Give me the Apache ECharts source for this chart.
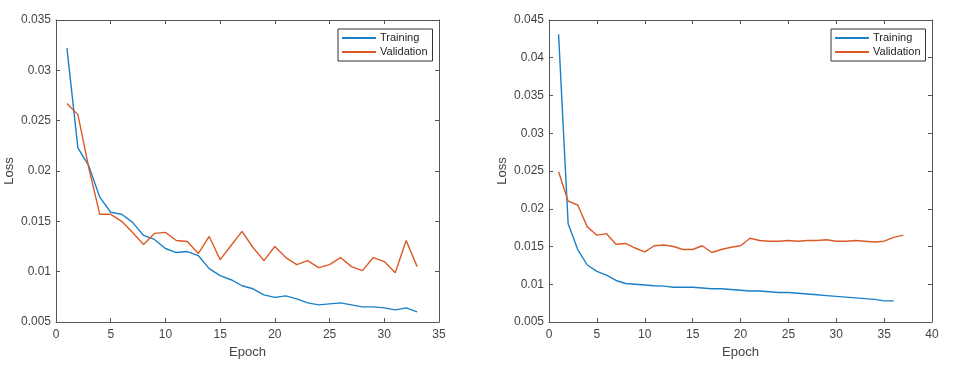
<!DOCTYPE html>
<html>
<head>
<meta charset="utf-8">
<script src="https://cdn.jsdelivr.net/npm/echarts@6/dist/echarts.min.js"></script>
<style>
  html, body { margin: 0; padding: 0; background: #fff; }
  #chart { width: 957px; height: 374px; }
</style>
</head>
<body>
<div id="chart"></div>
<script>
// left panel (33 epochs)
const trainA = [0.0322, 0.0223, 0.0205, 0.0174, 0.0159, 0.0157, 0.0149, 0.0136, 0.0132, 0.0123,
  0.0119, 0.0120, 0.0116, 0.0103, 0.0096, 0.0092, 0.0086, 0.0083, 0.0077, 0.00745,
  0.0076, 0.0073, 0.0069, 0.0067, 0.0068, 0.0069, 0.0067, 0.0065, 0.0065, 0.0064,
  0.0062, 0.0064, 0.0060];
const valA = [0.0267, 0.0256, 0.0203, 0.0157, 0.0157, 0.0150, 0.0139, 0.0127, 0.0138, 0.0139,
  0.0131, 0.0130, 0.0118, 0.0135, 0.0112, 0.0126, 0.0140, 0.0124, 0.0111, 0.0125,
  0.0114, 0.0107, 0.0111, 0.0104, 0.0107, 0.0114, 0.0105, 0.0101, 0.0114, 0.0110,
  0.0099, 0.0131, 0.0105];
// right panel (36 / 37 epochs)
const trainB = [0.0431, 0.0180, 0.0146, 0.01255, 0.0117, 0.0112, 0.0105, 0.0101, 0.0100, 0.0099,
  0.0098, 0.00975, 0.0096, 0.0096, 0.0096, 0.0095, 0.0094, 0.0094, 0.0093, 0.0092,
  0.0091, 0.0091, 0.0090, 0.0089, 0.0089, 0.0088, 0.0087, 0.0086, 0.0085, 0.0084,
  0.0083, 0.0082, 0.0081, 0.0080, 0.0078, 0.0078];
const valB = [0.0249, 0.0210, 0.0205, 0.0176, 0.0165, 0.0167, 0.0153, 0.0154, 0.0148, 0.0143,
  0.0151, 0.0152, 0.0150, 0.0146, 0.0146, 0.0151, 0.0142, 0.0146, 0.0149, 0.0151,
  0.0161, 0.0158, 0.0157, 0.0157, 0.0158, 0.0157, 0.0158, 0.0158, 0.0159, 0.0157,
  0.0157, 0.0158, 0.0157, 0.0156, 0.0157, 0.0162, 0.0165];

const xTicksA = { min: 0, max: 35, interval: 5 };
const xTicksB = { min: 0, max: 40, interval: 5 };
const yTicksA = { min: 0.005, max: 0.035, interval: 0.005 };
const yTicksB = { min: 0.005, max: 0.045, interval: 0.005 };

const seriesNames = ['Training', 'Validation'];
const colors = ['#1b80c8', '#dc5a28'];

const axisColor = '#555555';
const labelColor = '#444444';
const font = 'Liberation Sans, Arial, sans-serif';

function pairs(arr) {
  return arr.map(function (v, i) { return [i + 1, v]; });
}

function xAxes(grid, ticks) {
  const base = {
    gridIndex: grid, type: 'value', min: ticks.min, max: ticks.max, interval: ticks.interval,
    splitLine: { show: false },
    axisLine: { show: true, onZero: false, lineStyle: { color: axisColor, width: 1 } },
    axisTick: { show: true, inside: true, length: 4, lineStyle: { color: axisColor } }
  };
  return [
    Object.assign({}, base, {
      position: 'bottom',
      name: 'Epoch', nameLocation: 'middle', nameGap: 22,
      nameTextStyle: { color: labelColor, fontSize: 13, fontFamily: font },
      axisLabel: { color: labelColor, fontSize: 12, fontFamily: font, margin: 7 }
    }),
    Object.assign({}, base, { position: 'top', axisLabel: { show: false } })
  ];
}

function yAxes(grid, ticks) {
  const base = {
    gridIndex: grid, type: 'value', min: ticks.min, max: ticks.max, interval: ticks.interval,
    splitLine: { show: false },
    axisLine: { show: true, onZero: false, lineStyle: { color: axisColor, width: 1 } },
    axisTick: { show: true, inside: true, length: 4, lineStyle: { color: axisColor } }
  };
  return [
    Object.assign({}, base, {
      position: 'left',
      name: 'Loss', nameLocation: 'middle', nameGap: 40,
      nameTextStyle: { color: labelColor, fontSize: 13, fontFamily: font },
      axisLabel: {
        color: labelColor, fontSize: 12, fontFamily: font, margin: 5,
        formatter: function (v) { return String(+v.toFixed(3)); }
      }
    }),
    Object.assign({}, base, { position: 'right', axisLabel: { show: false } })
  ];
}

function line(name, data, color, xi, yi) {
  return {
    name: name, type: 'line', xAxisIndex: xi, yAxisIndex: yi,
    data: pairs(data), showSymbol: false, symbol: 'none',
    lineStyle: { color: color, width: 1.4 },
    itemStyle: { color: color },
    animation: false
  };
}

function legend(left) {
  return {
    left: left, top: 29, orient: 'vertical',
    data: seriesNames,
    icon: 'rect', itemWidth: 34, itemHeight: 2, itemGap: 2,
    padding: [3, 5, 3, 4],
    backgroundColor: '#fff',
    borderColor: '#333333', borderWidth: 1,
    textStyle: { color: '#262626', fontSize: 11, fontFamily: font, lineHeight: 12, padding: [0, 0, 0, -1] }
  };
}

const chart = echarts.init(document.getElementById('chart'));
chart.setOption({
  animation: false,
  grid: [
    { left: 56, top: 20, width: 383, height: 302 },
    { left: 549, top: 20, width: 383, height: 302 }
  ],
  xAxis: xAxes(0, xTicksA).concat(xAxes(1, xTicksB)),
  yAxis: yAxes(0, yTicksA).concat(yAxes(1, yTicksB)),
  legend: [legend(338), legend(831)],
  series: [
    line(seriesNames[0], trainA, colors[0], 0, 0),
    line(seriesNames[1], valA, colors[1], 0, 0),
    line(seriesNames[0], trainB, colors[0], 2, 2),
    line(seriesNames[1], valB, colors[1], 2, 2)
  ]
});
</script>
</body>
</html>
